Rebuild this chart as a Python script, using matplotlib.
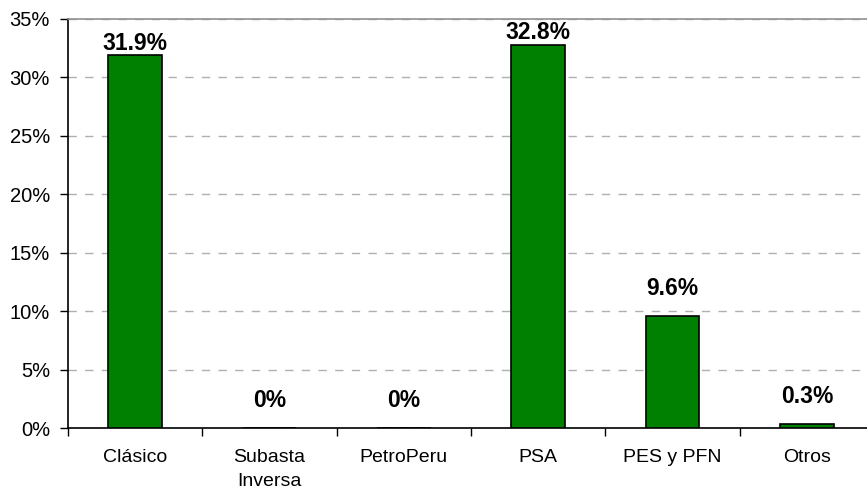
import matplotlib.pyplot as plt
import numpy as np

categorias = ['Clásico', 'Subasta\nInversa', 'PetroPeru', 'PSA', 'PES y PFN', 'Otros']
valores = [31.9, 0.0, 0.0, 32.8, 9.6, 0.3]
etiquetas = ['31.9%', '0%', '0%', '32.8%', '9.6%', '0.3%']
yticks = [0, 5, 10, 15, 20, 25, 30, 35]

plt.rcParams['font.family'] = ['Liberation Sans', 'DejaVu Sans']

fig = plt.figure(figsize=(8.67, 4.94), dpi=100)
ax = fig.add_axes([68 / 867, 66 / 494, 806 / 867, 409 / 494])

x = np.arange(len(categorias))
ax.bar(x, valores, width=0.4, color='#008000', edgecolor='black', linewidth=1.2, zorder=3)

# etiquetas encima de las barras
for xi, v, lab in zip(x, valores, etiquetas):
    off = 8.5 if v > 30 else 20
    ax.annotate(lab, (xi, v), xytext=(0, off), textcoords='offset points',
                ha='center', va='center', fontsize=16.5, fontweight='bold', zorder=4)

ax.set_xlim(-0.5, len(categorias) - 0.5)
ax.set_ylim(0, 35)
ax.set_yticks(yticks)
ax.set_yticklabels([f'{t}%' for t in yticks], fontsize=14.5)
ax.set_xticks(x)
ax.set_xticklabels(categorias, fontsize=14, linespacing=1.55)
ax.set_xticks(np.arange(-0.5, len(categorias), 1), minor=True)
ax.tick_params(axis='x', which='major', length=0, pad=15)
ax.tick_params(axis='x', which='minor', length=6, width=1, direction='out')
ax.tick_params(axis='y', length=6, width=1, direction='out', pad=7)

ax.yaxis.grid(True, linestyle=(0, (6, 6)), color='#b0b0b0', linewidth=1, zorder=0)
ax.spines['right'].set_visible(False)
ax.spines['top'].set_color('#909090')
ax.spines['top'].set_linewidth(1.2)
ax.spines['left'].set_linewidth(1.2)
ax.spines['bottom'].set_linewidth(1.2)

fig.savefig('out.png', dpi=100)
